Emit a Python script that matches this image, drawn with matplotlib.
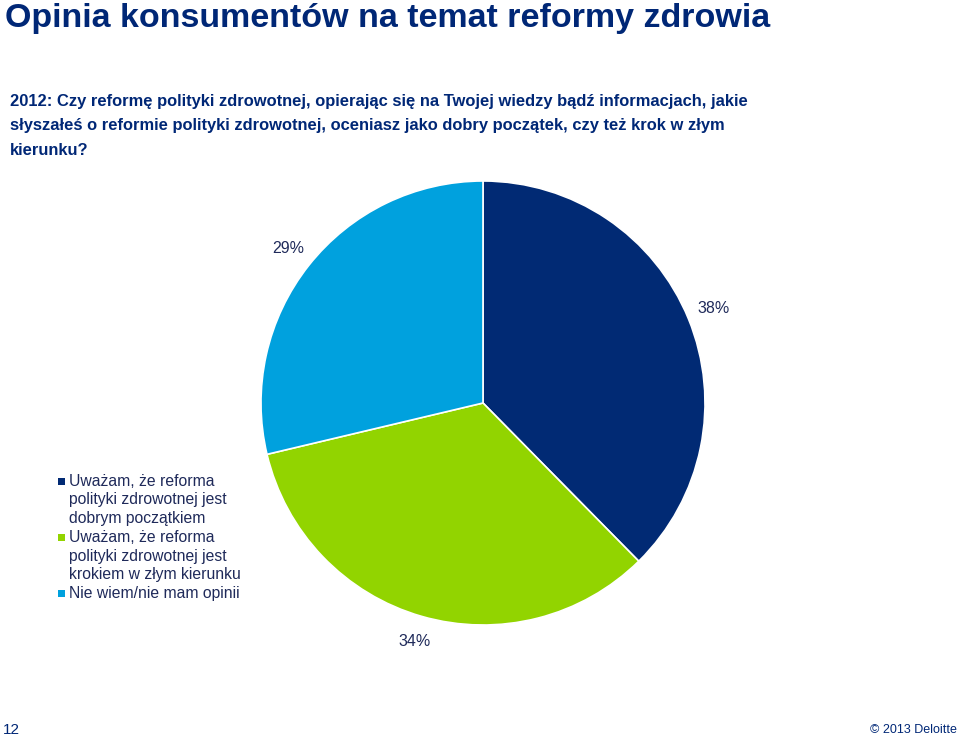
import matplotlib
matplotlib.use("Agg")
import matplotlib.pyplot as plt
from matplotlib.patches import Rectangle

plt.rcParams['font.family'] = ['Liberation Sans', 'DejaVu Sans']

title = "Opinia konsumentów na temat reformy zdrowia"
question = ("2012: Czy reformę polityki zdrowotnej, opierając się na Twojej wiedzy bądź informacjach, jakie\n"
            "słyszałeś o reformie polityki zdrowotnej, oceniasz jako dobry początek, czy też krok w złym\n"
            "kierunku?")
categories = ["Uważam, że reforma\npolityki zdrowotnej jest\ndobrym początkiem",
              "Uważam, że reforma\npolityki zdrowotnej jest\nkrokiem w złym kierunku",
              "Nie wiem/nie mam opinii"]
values = [38, 34, 29]
labels = ["38%", "34%", "29%"]
colors = ["#012A74", "#92D400", "#00A1DE"]

NAVY = "#002776"
TEXT = "#1F2A5A"

W, H = 960, 738
fig = plt.figure(figsize=(W / 100, H / 100), dpi=100)

cx, cy, r = 483, 403, 222
ax = fig.add_axes([(cx - r) / W, (H - cy - r) / H, 2 * r / W, 2 * r / H])
wedges, texts = ax.pie(values, colors=colors, startangle=90, counterclock=False,
                       labels=labels, labeldistance=1.12,
                       wedgeprops=dict(edgecolor="white", linewidth=1.2),
                       textprops=dict(fontsize=11.5, color=TEXT))
for t in texts:
    t.set_ha("center")
    t.set_va("center")
    t.set_clip_on(False)
ax.set_xlim(-1, 1)
ax.set_ylim(-1, 1)
ax.set_aspect("equal")
ax.axis("off")

fig.text(5 / W, 1 - 27 / H, title, fontsize=24.5, fontweight="bold", color=NAVY,
         ha="left", va="baseline")
fig.text(10 / W, 1 - 94 / H, question, fontsize=11.9, fontweight="bold", color=NAVY,
         ha="left", va="top", linespacing=1.78)

# legend (drawn manually so the marker sits on the first line of each entry)
line_y0, line_step = 481, 18.8
line_idx = 0
for cat, col in zip(categories, colors):
    y = line_y0 + line_idx * line_step
    fig.patches.append(Rectangle(((58) / W, 1 - (y + 3.5) / H), 7 / W, 7 / H,
                                 transform=fig.transFigure, facecolor=col,
                                 edgecolor="none", figure=fig))
    for k, ln in enumerate(cat.split("\n")):
        fig.text(69 / W, 1 - (y + k * line_step) / H, ln, fontsize=11.3, color=TEXT,
                 ha="left", va="center")
    line_idx += len(cat.split("\n"))

fig.text(3 / W, 1 - 730 / H, "12", fontsize=11, color=NAVY, ha="left", va="center")
fig.text(957 / W, 1 - 730 / H, "© 2013 Deloitte", fontsize=9, color=NAVY,
         ha="right", va="center")

fig.savefig("out.png", dpi=100)
